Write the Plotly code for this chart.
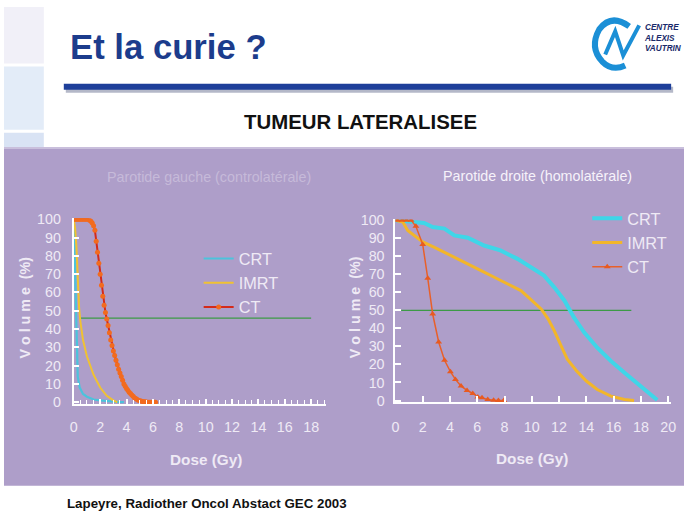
import plotly.graph_objects as go

W, H = 689, 517
# the photograph comes out slightly shrunk around the page centre; positions below are
# given in picture pixels and mapped back to page pixels
SX, SY = 0.988, 0.970
CX, CY = W / 2, H / 2

# ---------------- data ----------------
left_crt_x = [0, 0.05, 0.1, 0.15, 0.2, 0.3, 0.45, 0.7, 1.0, 1.5, 2.0, 2.5, 3.0, 3.5, 3.8]
left_crt_y = [100, 85, 62, 45, 27, 14, 8, 4.5, 3, 1.5, 1, 0.6, 0.3, 0.1, 0]

left_imrt_x = [0, 0.1, 0.2, 0.3, 0.4, 0.5, 0.7, 1.0, 1.5, 2.0, 2.5, 3.0, 3.3]
left_imrt_y = [100, 95, 85, 68, 52, 44, 34, 25, 15, 8, 3.5, 1, 0]

left_ct_x = [0.0, 0.1, 0.2, 0.3, 0.4, 0.5, 0.6, 0.7, 0.8, 0.9, 1.0, 1.1,
             1.2, 1.3, 1.4, 1.5, 1.6, 1.7, 1.8, 1.9, 2.0, 2.1, 2.2, 2.3,
             2.4, 2.5, 2.6, 2.7, 2.8, 2.9, 3.0, 3.1, 3.2, 3.3, 3.4, 3.5,
             3.6, 3.7, 3.8, 3.9, 4.0, 4.1, 4.2, 4.3, 4.4, 4.5, 4.6, 4.7,
             4.8, 4.9, 5.0, 5.1, 5.2, 5.3, 5.4, 5.5, 5.6, 5.7, 5.8, 5.9,
             6.0, 6.1, 6.2]
left_ct_y = [100, 100, 100, 100, 100, 100, 100, 100, 100, 100, 100, 100,
             99.5, 99, 98, 96.5, 94, 88, 82, 76, 70, 64, 58, 53,
             49, 45.5, 42, 38, 34, 31, 28, 25.5, 23, 20.5, 18, 16,
             14, 12, 10, 8.7, 7.5, 6.5, 5.5, 4.7, 4, 3.2, 2.5, 2,
             1.5, 1.1, 0.8, 0.6, 0.4, 0.3, 0.2, 0.1, 0, 0, 0, 0,
             0, 0, 0]

left_ref_x = [0.45, 18]
left_ref_y = [46, 46]

right_crt_x = [0, 1.39, 2.1, 2.73, 3.59, 4.32, 5.3, 6.5, 7.7, 8.95, 10.2, 10.9,
               11.65, 12.4, 13.1, 13.85, 14.8, 15.8, 16.8, 17.7, 18.45, 19.2]
right_crt_y = [100, 99, 98.5, 96.3, 95.4, 91.6, 90.3, 86, 83.3, 78.6, 73, 69.3,
               62.8, 55.4, 46, 37.7, 29.3, 21.9, 15.4, 9.8, 5.2, 0.3]

right_imrt_x = [0, 0.54, 0.9, 1.4, 2.0, 2.86, 3.6, 4.3, 5.3, 6.28, 7.25, 8.2, 9.2,
                9.9, 10.7, 11.2, 11.65, 12.1, 12.6, 13.3, 14.0, 14.8, 15.8, 16.8, 17.5]
right_imrt_y = [100, 99, 94.4, 91.6, 88, 85, 82.3, 79.5, 75.8, 72.1, 68.4, 64.7, 61,
                56.3, 50.7, 45.2, 38.7, 31.2, 22.9, 16.3, 10.8, 6.1, 2.4, 0.6, 0]

right_ct_x = [0.12, 0.5, 0.8, 1.15, 1.5, 2.0, 2.37, 2.73, 3.17, 3.6, 4.03, 4.4,
              4.81, 5.25, 5.67, 6.04, 6.35, 6.77, 7.2, 7.55, 7.95]
right_ct_y = [100, 100, 100, 100, 96.7, 86.6, 67.8, 48, 32.5, 22.3, 16, 11.7,
              8, 5.6, 3.9, 2, 1.5, 0.5, 0.1, 0, 0]

right_ref_x = [0.42, 17.3]
right_ref_y = [50, 50]

left_x_ticks = [0, 2, 4, 6, 8, 10, 12, 14, 16, 18]
right_x_ticks = [0, 2, 4, 6, 8, 10, 12, 14, 16, 18, 20]
y_ticks = [0, 10, 20, 30, 40, 50, 60, 70, 80, 90, 100]

# ---------------- styling ----------------
PURPLE = "#ae9ec9"
TXT = "#efeaf5"
FONT = "Liberation Sans, Arial, sans-serif"
FS = 1.0 / ((SX + SY) / 2)

def fs(v):
    return round(v * FS, 1)

def px_x(o):
    p = CX + (o - CX) / SX
    return min(max(p / W, 0), 1)

def px_y(o):
    p = CY + (o - CY) / SY
    return min(max(1 - p / H, 0), 1)

fig = go.Figure()

fig.add_trace(go.Scatter(x=left_ref_x, y=left_ref_y, mode="lines",
                         line=dict(color="#3c9a46", width=1.2),
                         showlegend=False, xaxis="x", yaxis="y", hoverinfo="skip"))
fig.add_trace(go.Scatter(x=left_crt_x, y=left_crt_y, mode="lines", name="CRT",
                         line=dict(color="#4cc3dc", width=2.2),
                         xaxis="x", yaxis="y", legend="legend", legendgroup="l1"))
fig.add_trace(go.Scatter(x=left_imrt_x, y=left_imrt_y, mode="lines", name="IMRT",
                         line=dict(color="#f0c232", width=2),
                         xaxis="x", yaxis="y", legend="legend", legendgroup="l2"))
fig.add_trace(go.Scatter(x=left_ct_x, y=left_ct_y, mode="lines+markers", name="CT",
                         line=dict(color="#d42a1a", width=2),
                         marker=dict(color="#f26b1f", size=5),
                         xaxis="x", yaxis="y", legend="legend", legendgroup="l3"))

fig.add_trace(go.Scatter(x=right_ref_x, y=right_ref_y, mode="lines",
                         line=dict(color="#3c9a46", width=1.2),
                         showlegend=False, xaxis="x2", yaxis="y2", hoverinfo="skip"))
fig.add_trace(go.Scatter(x=right_crt_x, y=right_crt_y, mode="lines", name="CRT",
                         line=dict(color="#3fd6e8", width=4),
                         xaxis="x2", yaxis="y2", legend="legend2", legendgroup="r1"))
fig.add_trace(go.Scatter(x=right_imrt_x, y=right_imrt_y, mode="lines", name="IMRT",
                         line=dict(color="#f2b62a", width=3),
                         xaxis="x2", yaxis="y2", legend="legend2", legendgroup="r2"))
fig.add_trace(go.Scatter(x=right_ct_x, y=right_ct_y, mode="lines+markers", name="CT",
                         line=dict(color="#e8602a", width=1.5),
                         marker=dict(color="#e85a20", size=6, symbol="triangle-up"),
                         xaxis="x2", yaxis="y2", legend="legend2", legendgroup="r3"))

axis_common = dict(showgrid=False, zeroline=False, showline=True, linecolor="white",
                   linewidth=2, ticks="inside", tickcolor="white", tickwidth=1.5,
                   tickfont=dict(family=FONT, size=fs(14), color=TXT), fixedrange=True)

lx0, lsx = 74, 13.2
ly0, lsy = 401, 1.82
rx0, rsx = 396, 13.65
ry0, rsy = 399.3, 1.793

fig.update_layout(
    width=W, height=H, margin=dict(l=0, r=0, t=0, b=0),
    paper_bgcolor="white", plot_bgcolor="rgba(0,0,0,0)",
    xaxis=dict(axis_common, domain=[px_x(lx0), px_x(lx0 + 19.1 * lsx)], range=[0, 19.1],
               tickvals=left_x_ticks, ticklen=5, ticklabelstandoff=9,
               minor=dict(dtick=0.5, tick0=0, ticks="inside", ticklen=4,
                          tickcolor="white", tickwidth=1.2),
               anchor="y"),
    yaxis=dict(axis_common, domain=[px_y(ly0 + 1 * lsy), px_y(ly0 - 100.5 * lsy)],
               range=[-1, 100.5], tickvals=y_ticks, ticklen=5, ticklabelstandoff=8,
               anchor="x"),
    xaxis2=dict(axis_common, domain=[px_x(rx0), px_x(rx0 + 20.2 * rsx)], range=[0, 20.2],
                tickvals=right_x_ticks, ticklen=6, ticklabelstandoff=11, anchor="y2"),
    yaxis2=dict(axis_common, domain=[px_y(ry0 + 1 * rsy), px_y(ry0 - 100.5 * rsy)],
                range=[-1, 100.5], tickvals=y_ticks, ticklen=6, ticklabelstandoff=6,
                anchor="x2"),
    legend=dict(x=px_x(199), y=px_y(241), xanchor="left", yanchor="top",
                bgcolor="rgba(0,0,0,0)", font=dict(family=FONT, size=fs(16), color=TXT),
                traceorder="grouped", tracegroupgap=0, itemwidth=30),
    legend2=dict(x=px_x(588), y=px_y(201), xanchor="left", yanchor="top",
                 bgcolor="rgba(0,0,0,0)", font=dict(family=FONT, size=fs(16), color=TXT),
                 traceorder="grouped", tracegroupgap=0, itemwidth=30),
    showlegend=True,
)

def rect(x0, x1, y0, y1, color):
    return dict(type="rect", xref="paper", yref="paper", layer="below",
                x0=px_x(x0), x1=px_x(x1), y0=px_y(y1), y1=px_y(y0),
                fillcolor=color, line=dict(width=0))

shapes = [
    rect(-10, 44, -10, 64, "#f1f0f8"),
    rect(-10, 44, 67, 130, "#e3ecf8"),
    rect(-10, 44, 133, 148, "#d9e3f4"),
    rect(-10, 700, 148, 484, PURPLE),
    rect(-10, 700, 147, 149, "#c9bfdc"),
    rect(66, 674, 87, 93, "#b4b8c8"),
    rect(64, 672, 84, 90, "#1e3f9a"),
]
shapes.append(dict(type="path", xref="paper", yref="paper",
                   path=f"M {px_x(630)},{px_y(27)} Q {px_x(612)},{px_y(14)} {px_x(600)},{px_y(30)} "
                        f"Q {px_x(590)},{px_y(48)} {px_x(603)},{px_y(62)} "
                        f"Q {px_x(613)},{px_y(72)} {px_x(626)},{px_y(66)}",
                   line=dict(color="#1b8fd6", width=6)))
shapes.append(dict(type="path", xref="paper", yref="paper",
                   path=f"M {px_x(606)},{px_y(55)} L {px_x(616)},{px_y(32)} L {px_x(624)},{px_y(56)} "
                        f"L {px_x(640)},{px_y(26)}",
                   line=dict(color="#1b8fd6", width=4)))

def note(text, x, y, size, color, xanchor="center", angle=0, family=FONT, align="center"):
    return dict(text=text, x=px_x(x), y=px_y(y), xref="paper", yref="paper",
                xanchor=xanchor, yanchor="middle", showarrow=False, textangle=angle,
                align=align, font=dict(family=family, size=fs(size), color=color))

annotations = [
    note("<b>Et la curie ?</b>", 68, 48, 34, "#1c3c8c", xanchor="left"),
    note("<b><i>CENTRE<br>ALEXIS<br>VAUTRIN</i></b>", 643, 39, 8, "#1a2a6a",
         xanchor="left", align="left"),
    note("<b>TUMEUR LATERALISEE</b>", 361, 122, 20, "#111111"),
    note("Parotide gauche (controlatérale)", 209, 177, 14, "#c6bad9"),
    note("Parotide droite (homolatérale)", 538, 176, 14, "#f6f2fa"),
    note("<b>Dose (Gy)</b>", 206, 458, 15, TXT),
    note("<b>Dose (Gy)</b>", 533, 457, 15, TXT),
    note("<b>V o l u m e  (%)</b>", 25, 307, 14, TXT, angle=-90),
    note("<b>V o l u m e  (%)</b>", 355, 306, 14, TXT, angle=-90),
    note("<b>Lapeyre, Radiother Oncol Abstact GEC 2003</b>", 65, 502, 13, "#111111",
         xanchor="left"),
]

fig.update_layout(shapes=shapes, annotations=annotations)

fig.write_html("out.html", config={"displayModeBar": False},
               post_script="document.body.style.margin='0';document.body.style.overflow='hidden';")
